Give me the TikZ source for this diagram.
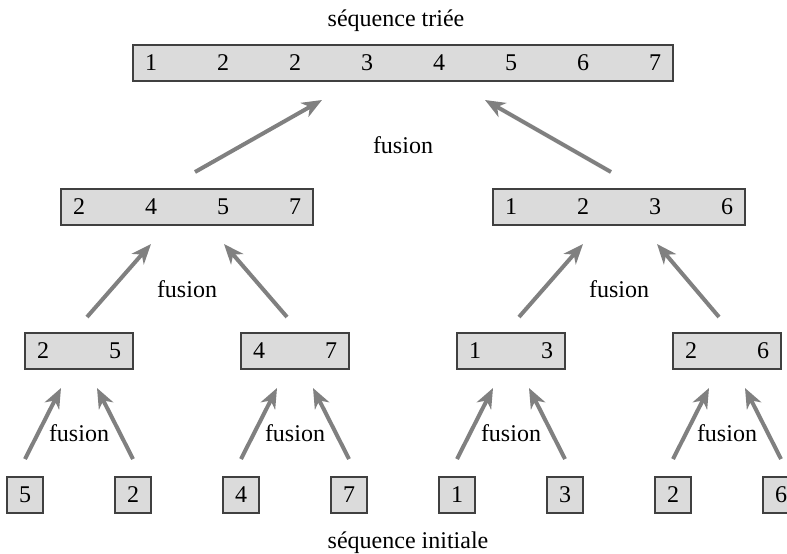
\documentclass[tikz,border=0pt]{standalone}
\usepackage{fontspec}
\setmainfont{Liberation Serif}
\usetikzlibrary{arrows.meta,calc,positioning}
\definecolor{cellfill}{gray}{0.86}
\definecolor{cellline}{gray}{0.25}
\definecolor{mergegray}{gray}{0.5}
\tikzset{
  seq/.style={draw=cellline,fill=cellfill,line width=0.6pt,outer sep=0pt,
    inner xsep=6pt,inner ysep=1pt,minimum height=18pt,
    text width=#1,align=flush left,font=\fontsize{12}{14}\selectfont},
  lbl/.style={font=\fontsize{12}{14}\selectfont,inner sep=0pt},
  merge/.style={draw=mergegray,line width=2pt,-{Stealth[length=10pt,width=8pt,inset=3pt]}}
}

\begin{document}
\begin{tikzpicture}[x=0.5pt,y=-0.5pt]
    \useasboundingbox (0,0) rectangle (787,553);
    % sequence initiale
    \node[seq=6pt] (s1) at (25,495) {5};
    \node[seq=6pt] (s2) [right=36pt of s1] {2};
    \node[seq=6pt] (s3) [right=36pt of s2] {4};
    \node[seq=6pt] (s4) [right=36pt of s3] {7};
    \node[seq=6pt] (s5) [right=36pt of s4] {1};
    \node[seq=6pt] (s6) [right=36pt of s5] {3};
    \node[seq=6pt] (s7) [right=36pt of s6] {2};
    \node[seq=6pt] (s8) [right=36pt of s7] {6};
    % paires
    \node[seq=42pt] (p1) at ($(s1)!.5!(s2)+(0,-144)$) {2\hfill 5};
    \node[seq=42pt] (p2) at ($(s3)!.5!(s4)+(0,-144)$) {4\hfill 7};
    \node[seq=42pt] (p3) at ($(s5)!.5!(s6)+(0,-144)$) {1\hfill 3};
    \node[seq=42pt] (p4) at ($(s7)!.5!(s8)+(0,-144)$) {2\hfill 6};
    % moities
    \node[seq=114pt] (ga) at ($(p1)!.5!(p2)+(0,-144)$) {2\hfill 4\hfill 5\hfill 7};
    \node[seq=114pt] (dr) at ($(p3)!.5!(p4)+(0,-144)$) {1\hfill 2\hfill 3\hfill 6};
    % sequence triee
    \node[seq=258pt] (trie) at ($(ga)!.5!(dr)+(0,-144)$)
        {1\hfill 2\hfill 2\hfill 3\hfill 4\hfill 5\hfill 6\hfill 7};
    \node[lbl,anchor=base] (titre) at (396,26) {séquence triée};
    \node[lbl,anchor=base] (depart) at (408,548) {séquence initiale};
    \foreach \p in {trie,ga,dr,p1,p2,p3,p4}
        \node[lbl] (f-\p) at ($(\p)+(0,82)$) {fusion};
    % fusions
    \draw[merge] ($(s1.north)+(0,-18)$) -- ($(p1.south)+(-18,19)$);
    \draw[merge] ($(s2.north)+(0,-18)$) -- ($(p1.south)+(18,19)$);
    \draw[merge] ($(s3.north)+(0,-18)$) -- ($(p2.south)+(-18,19)$);
    \draw[merge] ($(s4.north)+(0,-18)$) -- ($(p2.south)+(18,19)$);
    \draw[merge] ($(s5.north)+(0,-18)$) -- ($(p3.south)+(-18,19)$);
    \draw[merge] ($(s6.north)+(0,-18)$) -- ($(p3.south)+(18,19)$);
    \draw[merge] ($(s7.north)+(0,-18)$) -- ($(p4.south)+(-18,19)$);
    \draw[merge] ($(s8.north)+(0,-18)$) -- ($(p4.south)+(18,19)$);
    \draw[merge] ($(p1.north)+(8,-16)$) -- ($(ga.south)+(-36,19)$);
    \draw[merge] ($(p2.north)+(-8,-16)$) -- ($(ga.south)+(37,19)$);
    \draw[merge] ($(p3.north)+(8,-16)$) -- ($(dr.south)+(-36,19)$);
    \draw[merge] ($(p4.north)+(-8,-16)$) -- ($(dr.south)+(38,19)$);
    \draw[merge] ($(ga.north)+(8,-17)$) -- ($(trie.south)+(-81,19)$);
    \draw[merge] ($(dr.north)+(-8,-17)$) -- ($(trie.south)+(82,19)$);
\end{tikzpicture}
\end{document}
